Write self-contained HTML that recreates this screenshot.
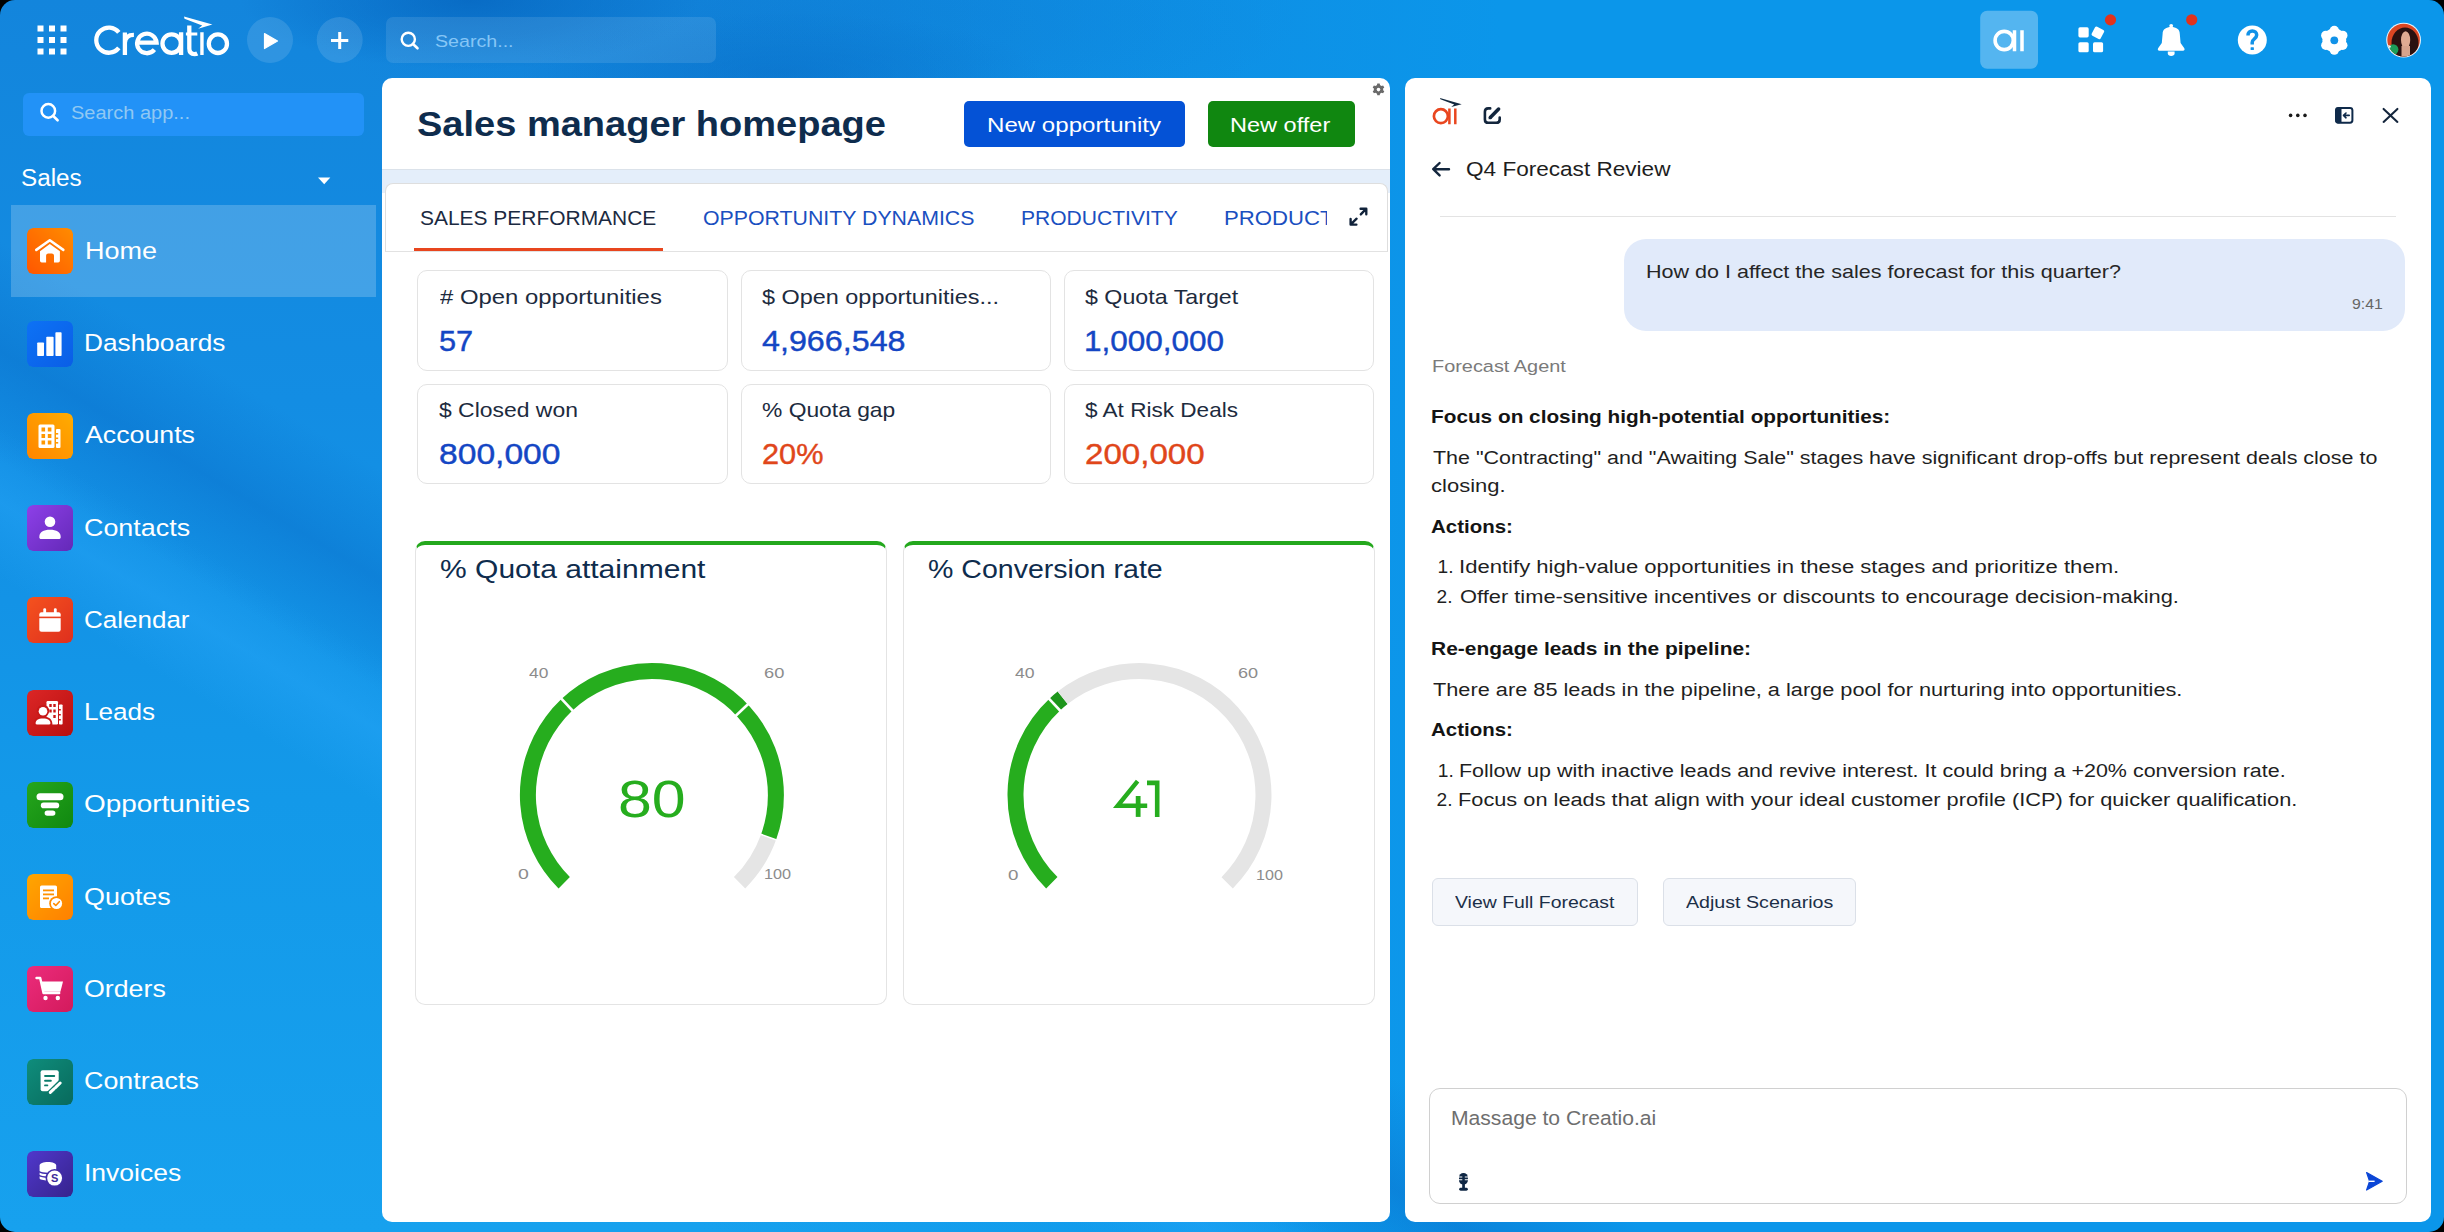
<!DOCTYPE html>
<html><head><meta charset="utf-8">
<style>
*{box-sizing:border-box;margin:0;padding:0}
html,body{width:2444px;height:1232px;overflow:hidden;background:#000;font-family:"Liberation Sans",sans-serif}
#app{position:absolute;left:0;top:0;width:2444px;height:1232px;border-radius:15px;overflow:hidden;
background:
 radial-gradient(ellipse 230px 70px at 470px 0px, rgba(5,100,190,0.75), rgba(5,100,190,0) 100%),
 radial-gradient(ellipse 260px 60px at 780px 72px, rgba(6,105,195,0.45), rgba(6,105,195,0) 100%),
 radial-gradient(ellipse 500px 120px at 800px 20px, rgba(8,112,200,0.28), rgba(8,112,200,0) 100%),
 linear-gradient(31deg, rgba(8,108,200,0) 660px, rgba(8,108,200,0.45) 755px, rgba(8,108,200,0) 850px),
 linear-gradient(31deg, rgba(40,168,250,0) 560px, rgba(40,168,250,0.4) 625px, rgba(40,168,250,0) 690px),
 linear-gradient(90deg, rgba(11,150,234,0) 700px, rgba(11,150,234,1) 1500px),
 linear-gradient(180deg,#1385dc 0px,#138de3 400px,#1399e9 800px,#17a1ee 1232px);}
.abs{position:absolute}
.t{position:absolute;white-space:nowrap;line-height:1}
.panel{position:absolute;background:#fff;border-radius:10px;overflow:hidden}
.ico{position:absolute;left:27px;width:46px;height:46px;border-radius:6px}
.kpi{position:absolute;width:310.5px;height:100.5px;border:1.5px solid #e3e3e3;border-radius:10px;background:#fff}
.gcard{position:absolute;height:464px;border:1.5px solid #e4e4e4;border-top:4px solid #24a81d;border-radius:10px;background:#fff}
.cbtn{position:absolute;top:799.5px;height:48.3px;background:#f5f7fb;border:1.5px solid #dbe0e8;border-radius:6px}
</style></head>
<body>
<div id="app">
  <!-- ================= TOP BAR ================= -->
  <svg class="abs" style="left:0;top:0" width="2444" height="78">
    <g fill="#fff">
      <rect x="37.5" y="25.5" width="6" height="6"/><rect x="49" y="25.5" width="6" height="6"/><rect x="60.5" y="25.5" width="6" height="6"/>
      <rect x="37.5" y="37" width="6" height="6"/><rect x="49" y="37" width="6" height="6"/><rect x="60.5" y="37" width="6" height="6"/>
      <rect x="37.5" y="48.5" width="6" height="6"/><rect x="49" y="48.5" width="6" height="6"/><rect x="60.5" y="48.5" width="6" height="6"/>
    </g>
    <!-- Creatio logo -->
    <g fill="none" stroke="#fff" stroke-width="4.3">
      <path d="M118.8 32.4 A12.6 12.6 0 1 0 118.8 47.9"/>
      <path d="M124.9 55 V32.6 M124.9 42.5 C125.3 37.2 128.6 34.8 133.9 34.8"/>
      <path d="M137.2 42.6 H156.6 A9.75 9.75 0 1 0 154.4 49.7"/>
      <circle cx="171.65" cy="43.6" r="9.2"/>
      <path d="M181.1 32.3 V55"/>
      <path d="M189.3 25.4 V48.5 C189.3 52.6 191.4 54.1 194.6 54.1 C195.6 54.1 196.5 53.9 197.3 53.5"/>
      <path d="M185.9 33.9 H197.3" stroke-width="3"/>
      <path d="M201.95 32.3 V55" stroke-width="3.4"/>
      <ellipse cx="217.9" cy="43.7" rx="9.1" ry="9.3"/>
    </g>
    <path fill="#fff" d="M184 16.5 L212.4 24.6 L198.2 28.7 L202.2 25.5 L184.5 18.7 Z"/>
    <!-- play / plus -->
    <circle cx="270" cy="40" r="23" fill="rgba(255,255,255,0.12)"/>
    <path d="M264.5 33.5 L277.5 41 L264.5 48.5 Z" fill="#fff" stroke="#fff" stroke-width="1.2" stroke-linejoin="round"/>
    <circle cx="339.7" cy="40" r="23" fill="rgba(255,255,255,0.12)"/>
    <path d="M331 40.5 H348.3 M339.7 32 V49" stroke="#fff" stroke-width="3" fill="none"/>
    <!-- search -->
    <rect x="386" y="17" width="330" height="46" rx="7" fill="rgba(255,255,255,0.1)"/>
    <circle cx="408.3" cy="39.3" r="6.6" fill="none" stroke="#fff" stroke-width="2.4"/>
    <path d="M413 44 L417.5 48.3" stroke="#fff" stroke-width="2.6" stroke-linecap="round"/>
    <!-- AI button -->
    <rect x="1980.2" y="10.7" width="57.8" height="58" rx="7" fill="rgba(255,255,255,0.3)"/>
    <circle cx="2004.2" cy="40.5" r="9.1" fill="none" stroke="#fff" stroke-width="3.6"/>
    <path d="M2014.5 30.3 V51.2 M2022 30.3 V51.2" stroke="#fff" stroke-width="3.5"/>
    <!-- apps -->
    <g fill="#fff">
      <rect x="2078.4" y="27.3" width="10.3" height="10.1" rx="1.6"/>
      <rect x="2078.4" y="42.2" width="10.3" height="10.1" rx="1.6"/>
      <rect x="2093" y="42.2" width="10.1" height="10.1" rx="1.6"/>
      <rect x="2092.8" y="27.7" width="10.2" height="10.2" rx="1.6" transform="rotate(28 2097.9 32.8)"/>
    </g>
    <circle cx="2110.5" cy="19.9" r="5.6" fill="#e2321b"/>
    <!-- bell -->
    <g fill="#fff">
      <circle cx="2171.2" cy="25.8" r="1.9"/>
      <path d="M2162.6 34 C2162.6 29.2 2166.3 27.1 2171.2 27.1 C2176.1 27.1 2179.8 29.2 2179.8 34 L2180.6 43 L2184.3 48.3 C2185 49.6 2184.4 50.8 2183 50.8 H2159.4 C2158 50.8 2157.4 49.6 2158.1 48.3 L2161.8 43 Z"/>
      <path d="M2167.8 51.6 H2174.6 V53.2 C2174.6 54.9 2173.2 55.9 2171.2 55.9 C2169.2 55.9 2167.8 54.9 2167.8 53.2 Z"/>
    </g>
    <circle cx="2191.7" cy="19.8" r="5.6" fill="#e2321b"/>
    <!-- help -->
    <circle cx="2252.3" cy="39.9" r="14.5" fill="#fff"/>
    <path d="M2248 35.4 C2248 32.4 2249.9 30.9 2252.3 30.9 C2254.8 30.9 2256.7 32.5 2256.7 35 C2256.7 37.3 2255.2 38.3 2253.9 39.3 C2252.8 40.1 2252.2 41 2252.2 42.6 V44.4" fill="none" stroke="#1192e8" stroke-width="3.5" stroke-linecap="butt"/>
    <rect x="2250.6" y="47.2" width="3.3" height="2.8" rx="0.6" fill="#1192e8"/>
    <!-- gear -->
    <g transform="translate(2334.3 40.3)" fill="#fff">
      <circle r="11.9"/><circle cx="0.00" cy="-9.80" r="4.7"/><circle cx="8.49" cy="-4.90" r="4.7"/><circle cx="8.49" cy="4.90" r="4.7"/><circle cx="0.00" cy="9.80" r="4.7"/><circle cx="-8.49" cy="-4.90" r="4.7"/><circle cx="-8.49" cy="4.90" r="4.7"/>
      <circle r="3.9" fill="#1192e8"/>
    </g>
    <!-- avatar -->
    <defs><clipPath id="avc"><circle cx="2403.6" cy="40.1" r="16.3"/></clipPath></defs>
    <circle cx="2403.6" cy="40.1" r="17.4" fill="#e6f3fc"/>
    <g clip-path="url(#avc)">
      <rect x="2386" y="22" width="36" height="36" fill="#db4622"/>
      <ellipse cx="2405" cy="43" rx="13.5" ry="15.5" fill="#2a1110"/>
      <ellipse cx="2405.6" cy="40" rx="4.6" ry="8.8" fill="#e0aa92"/>
      <rect x="2401.5" y="46" width="8.5" height="14" fill="#d8a38c"/>
      <circle cx="2393.2" cy="49.5" r="5.2" fill="#1c9c58"/>
      <path d="M2386 44 L2391 46 L2388.5 52 L2386 50Z" fill="#f2f2f2"/>
    </g>
  </svg>

  <!-- ================= SIDEBAR ================= -->
  <div class="abs" style="left:23px;top:92.5px;width:341px;height:43.5px;border-radius:6px;background:rgba(40,150,255,0.75)"></div>
  <svg class="abs" style="left:0;top:78px" width="382" height="1154">
    <circle cx="48.3" cy="32.9" r="6.8" fill="none" stroke="#fff" stroke-width="2.5"/>
    <path d="M53 37.8 L57.6 42.3" stroke="#fff" stroke-width="2.6" stroke-linecap="round"/>
    <path d="M318 99.6 H330.3 L324.2 106.2 Z" fill="#fff"/>
  </svg>
  <div class="abs" style="left:11px;top:205px;width:365px;height:92px;background:rgba(255,255,255,0.2)"></div>
  <svg class="ico" style="top:228.40px" viewBox="0 0 46 46"><defs><linearGradient id="g0" x1="1" y1="0" x2="0" y2="1"><stop offset="0" stop-color="#ff8c00"/><stop offset="1" stop-color="#ff5600"/></linearGradient></defs><rect width="46" height="46" rx="6" fill="url(#g0)"/><path fill="#fff" d="M22.8 15.9 L32.9 23.3 V32.7 Q32.9 34.5 31.1 34.5 H27 V27.8 Q27 25.6 24.8 25.6 H21.3 Q19.1 25.6 19.1 27.8 V34.5 H14.8 Q13 34.5 13 32.7 V23.3 Z"/><path d="M9.3 21.9 L22.8 12.3 L36.3 21.9" fill="none" stroke="#fff" stroke-width="2.6" stroke-linecap="round" stroke-linejoin="round"/></svg>
<svg class="ico" style="top:320.65px" viewBox="0 0 46 46"><defs><linearGradient id="g1" x1="0" y1="0" x2="1" y2="1"><stop offset="0" stop-color="#0d72f5"/><stop offset="1" stop-color="#0a5ee6"/></linearGradient></defs><rect width="46" height="46" rx="6" fill="url(#g1)"/><g fill="#fff"><rect x="10.2" y="21.4" width="6.8" height="13.6" rx="0.8"/><rect x="19.3" y="15.8" width="7.3" height="19.2" rx="0.8"/><rect x="28.4" y="11.2" width="6.2" height="23.8" rx="0.8"/></g></svg>
<svg class="ico" style="top:412.90px" viewBox="0 0 46 46"><defs><linearGradient id="g2" x1="0" y1="1" x2="1" y2="0"><stop offset="0" stop-color="#ff8500"/><stop offset="1" stop-color="#ffac00"/></linearGradient></defs><rect width="46" height="46" rx="6" fill="url(#g2)"/><g fill="#fff"><rect x="11.5" y="11.5" width="16" height="23.5" rx="1.5"/><rect x="29" y="16" width="4.5" height="19" rx="1"/></g><g fill="#ff9800"><rect x="14.5" y="14.5" width="3.6" height="4"/><rect x="20.8" y="14.5" width="3.6" height="4"/><rect x="14.5" y="21" width="3.6" height="4"/><rect x="20.8" y="21" width="3.6" height="4"/><rect x="14.5" y="27.5" width="3.6" height="4"/><rect x="20.8" y="27.5" width="3.6" height="4"/><rect x="29" y="20" width="2.2" height="1.6"/><rect x="29" y="24.5" width="2.2" height="1.6"/><rect x="29" y="29" width="2.2" height="1.6"/></g></svg>
<svg class="ico" style="top:505.15px" viewBox="0 0 46 46"><defs><linearGradient id="g3" x1="0" y1="0" x2="1" y2="1"><stop offset="0" stop-color="#8d40e8"/><stop offset="1" stop-color="#6429b8"/></linearGradient></defs><rect width="46" height="46" rx="6" fill="url(#g3)"/><g fill="#fff"><circle cx="23" cy="16.8" r="5.3"/><path d="M12.3 32.2 C12.3 26.8 16.5 24.8 23 24.8 C29.5 24.8 33.7 26.8 33.7 32.2 C33.7 33.4 33 34 31.8 34 H14.2 C13 34 12.3 33.4 12.3 32.2 Z"/></g></svg>
<svg class="ico" style="top:597.40px" viewBox="0 0 46 46"><defs><linearGradient id="g4" x1="0" y1="0" x2="1" y2="1"><stop offset="0" stop-color="#f5521e"/><stop offset="1" stop-color="#de2f1e"/></linearGradient></defs><rect width="46" height="46" rx="6" fill="url(#g4)"/><g fill="#fff"><rect x="12.3" y="15.3" width="21.4" height="19.5" rx="2.2"/><rect x="16.3" y="11.3" width="2.8" height="6" rx="1.2"/><rect x="26.9" y="11.3" width="2.8" height="6" rx="1.2"/></g><rect x="12" y="19.6" width="22" height="1.6" fill="#ea3f1e"/></svg>
<svg class="ico" style="top:689.65px" viewBox="0 0 46 46"><defs><linearGradient id="g5" x1="0" y1="0" x2="1" y2="1"><stop offset="0" stop-color="#dc2626"/><stop offset="1" stop-color="#b80f0f"/></linearGradient></defs><rect width="46" height="46" rx="6" fill="url(#g5)"/><g fill="#fff"><rect x="19.5" y="11" width="11.5" height="23.5" rx="1.2"/><rect x="32" y="14.5" width="3.6" height="20" rx="0.8"/></g><g fill="#c81818"><rect x="22.3" y="14" width="2.4" height="3"/><rect x="26.3" y="14" width="2.4" height="3"/><rect x="22.3" y="19.5" width="2.4" height="3"/><rect x="26.3" y="19.5" width="2.4" height="3"/><rect x="26.3" y="25" width="2.4" height="3"/><rect x="32" y="19" width="1.8" height="1.5"/><rect x="32" y="24" width="1.8" height="1.5"/><rect x="32" y="29" width="1.8" height="1.5"/><circle cx="16" cy="21" r="6.2"/><path d="M6.5 35.5 C6.5 29 10 26.5 16 26.5 C22 26.5 25.5 29 25.5 35.5 Z"/></g><g fill="#fff"><circle cx="16" cy="21.2" r="4.3"/><path d="M8.6 33.2 C8.6 30 11 28.4 16 28.4 C21 28.4 23.4 30 23.4 33.2 C23.4 34 23 34.4 22.2 34.4 H9.8 C9 34.4 8.6 34 8.6 33.2 Z"/></g></svg>
<svg class="ico" style="top:781.90px" viewBox="0 0 46 46"><defs><linearGradient id="g6" x1="0" y1="0" x2="1" y2="1"><stop offset="0" stop-color="#26a61c"/><stop offset="1" stop-color="#108810"/></linearGradient></defs><rect width="46" height="46" rx="6" fill="url(#g6)"/><g fill="#fff"><rect x="9.5" y="11.2" width="27" height="7" rx="3.5"/><rect x="13.8" y="20.6" width="18.4" height="5.6" rx="2.8"/><rect x="17.6" y="28.4" width="10.8" height="5.4" rx="2.7"/></g></svg>
<svg class="ico" style="top:874.15px" viewBox="0 0 46 46"><defs><linearGradient id="g7" x1="0" y1="0" x2="1" y2="1"><stop offset="0" stop-color="#ffa600"/><stop offset="1" stop-color="#ff8000"/></linearGradient></defs><rect width="46" height="46" rx="6" fill="url(#g7)"/><rect x="13" y="11.5" width="17" height="22.5" rx="1.6" fill="#fff"/><g fill="#ff9200"><rect x="16" y="15.5" width="11" height="1.8"/><rect x="16" y="19.5" width="11" height="1.8"/><rect x="16" y="23.5" width="6" height="1.8"/></g><circle cx="29.5" cy="29.5" r="7.3" fill="#ff8c00"/><circle cx="29.5" cy="29.5" r="5.6" fill="#fff"/><path d="M26.8 29.6 L28.8 31.5 L32.3 27.7" fill="none" stroke="#ff8c00" stroke-width="1.6" stroke-linecap="round" stroke-linejoin="round"/></svg>
<svg class="ico" style="top:966.40px" viewBox="0 0 46 46"><defs><linearGradient id="g8" x1="0" y1="0" x2="1" y2="1"><stop offset="0" stop-color="#ec2c7c"/><stop offset="1" stop-color="#d31a5c"/></linearGradient></defs><rect width="46" height="46" rx="6" fill="url(#g8)"/><path d="M9.5 12 H13.2 L16.5 27 H32.2" fill="none" stroke="#fff" stroke-width="2.4" stroke-linecap="round" stroke-linejoin="round"/><path fill="#fff" d="M14.5 15.5 H36 L33.4 25.8 H16.7 Z"/><circle cx="18.5" cy="32" r="2.2" fill="#fff"/><circle cx="30.8" cy="32" r="2.2" fill="#fff"/></svg>
<svg class="ico" style="top:1058.65px" viewBox="0 0 46 46"><defs><linearGradient id="g9" x1="0" y1="0" x2="1" y2="1"><stop offset="0" stop-color="#0f8d7c"/><stop offset="1" stop-color="#086a5c"/></linearGradient></defs><rect width="46" height="46" rx="6" fill="url(#g9)"/><path fill="#fff" d="M15.6 11.35 H29.7 Q31.7 11.35 31.7 13.35 V24 L23.6 32.25 H15.6 Q13.6 32.25 13.6 30.25 V13.35 Q13.6 11.35 15.6 11.35 Z"/><g fill="#0c7c6c"><rect x="17.1" y="16.05" width="11.1" height="1.9" rx="0.9"/><rect x="17.1" y="20.75" width="7.7" height="1.9" rx="0.9"/><rect x="17.1" y="25.4" width="4.2" height="1.9" rx="0.9"/></g><path d="M21.6 35.2 L34.6 22.6" stroke="#0b7a6a" stroke-width="5.6"/><path d="M23.3 33.4 L27.3 29.6 M28.7 28.3 L33.2 24" stroke="#fff" stroke-width="3" stroke-linecap="round"/></svg>
<svg class="ico" style="top:1150.90px" viewBox="0 0 46 46"><defs><linearGradient id="g10" x1="0" y1="0" x2="1" y2="1"><stop offset="0" stop-color="#5038cc"/><stop offset="1" stop-color="#36238c"/></linearGradient></defs><rect width="46" height="46" rx="6" fill="url(#g10)"/><path fill="#fff" d="M12.6 14.6 C12.6 12.3 16.3 11.1 20.9 11.1 C25.5 11.1 29.2 12.3 29.2 14.6 V27.2 C29.2 28.6 25.5 29.4 20.9 29.4 C16.3 29.4 12.6 28.6 12.6 27.2 Z"/><g stroke="#4330b0" stroke-width="1.5" fill="none"><path d="M12 20.6 C14 21.9 17 22.4 21 22.4"/><path d="M12 24.4 C14 25.7 17 26.1 21 26.1"/></g><circle cx="27.6" cy="27.1" r="9.1" fill="#412ca6"/><circle cx="27.6" cy="27.1" r="7.5" fill="#fff"/><text x="27.6" y="31" text-anchor="middle" font-family="Liberation Sans" font-weight="700" font-size="11" fill="#3d2a9a">S</text></svg>


  <!-- ================= MAIN PANEL ================= -->
  <div class="panel" style="left:382px;top:78px;width:1008px;height:1144px">
    <div class="abs" style="left:0;top:91px;width:1008px;height:24px;background:#e4eefa;border-top:1px solid #dbe2ea"></div>
    <div class="abs" style="left:3px;top:104.5px;width:1003px;height:69px;background:#fff;border:1.3px solid #dedede;border-bottom-color:#e2e2e2;border-radius:8px 8px 0 0"></div>
    <div class="abs" style="left:32px;top:170.4px;width:248.5px;height:3px;background:#e8461e"></div>
    <div class="abs" style="left:582px;top:23px;width:221.2px;height:46px;border-radius:5px;background:#0452d6"></div>
    <div class="abs" style="left:826.2px;top:23px;width:147.3px;height:46px;border-radius:5px;background:#108710"></div>
    <!-- small gear -->
    <svg class="abs" style="left:990px;top:5px" width="16" height="16">
      <g transform="translate(6.5 6.6)">
      <path fill="#6a6a6a" d="M-1.2 -6 h2.4 l0.4 1.6 a4.6 4.6 0 0 1 1.4 0.8 l1.6 -0.5 l1.2 2 l-1.2 1.1 a4.6 4.6 0 0 1 0 1.6 l1.2 1.1 l-1.2 2 l-1.6 -0.5 a4.6 4.6 0 0 1 -1.4 0.8 l-0.4 1.6 h-2.4 l-0.4 -1.6 a4.6 4.6 0 0 1 -1.4 -0.8 l-1.6 0.5 l-1.2 -2 l1.2 -1.1 a4.6 4.6 0 0 1 0 -1.6 l-1.2 -1.1 l1.2 -2 l1.6 0.5 a4.6 4.6 0 0 1 1.4 -0.8 z"/>
      <circle r="1.8" fill="#fff"/></g>
    </svg>
    <!-- expand icon -->
    <svg class="abs" style="left:966px;top:129px" width="22" height="20">
      <g fill="none" stroke="#10223a" stroke-width="2.35" stroke-linecap="round" stroke-linejoin="round">
        <path d="M12.6 1.7 H18.3 V7.2 M18.1 1.9 L12.8 7.4"/>
        <path d="M2.6 12 V17.6 H8.4 M2.8 17.4 L8.6 11.7"/>
      </g>
    </svg>
    <!-- KPI cards -->
    <div class="kpi" style="left:35px;top:192.3px"></div>
    <div class="kpi" style="left:358.5px;top:192.3px"></div>
    <div class="kpi" style="left:681.5px;top:192.3px"></div>
    <div class="kpi" style="left:35px;top:305.5px"></div>
    <div class="kpi" style="left:358.5px;top:305.5px"></div>
    <div class="kpi" style="left:681.5px;top:305.5px"></div>
    <!-- gauge cards -->
    <div class="gcard" style="left:33.4px;top:463px;width:471.6px"></div>
    <div class="gcard" style="left:521.4px;top:463px;width:471.4px"></div>
  </div>
  <svg class="abs" style="left:0;top:0" width="1400" height="1232">
<path d="M564.22 882.78 A124 124 0 1 1 768.57 837.10" fill="none" stroke="#26ad1e" stroke-width="16"/>
<path d="M768.57 837.10 A124 124 0 0 1 739.58 882.78" fill="none" stroke="#e5e5e5" stroke-width="16"/>
<path d="M573.86 712.00 L560.17 697.42" stroke="#fff" stroke-width="2.6"/>
<path d="M734.73 716.77 L749.26 703.03" stroke="#fff" stroke-width="2.6"/>
<path d="M759.16 833.72 L777.98 840.49" stroke="#fff" stroke-width="1.6"/>
<path d="M1051.82 882.78 A124 124 0 0 1 1054.62 704.71" fill="none" stroke="#26ad1e" stroke-width="16"/>
<path d="M1054.62 704.71 A124 124 0 0 1 1062.65 697.79" fill="none" stroke="#1d951b" stroke-width="16"/>
<path d="M1062.65 697.79 A124 124 0 0 1 1227.18 882.78" fill="none" stroke="#e5e5e5" stroke-width="16"/>
<path d="M1061.46 712.00 L1047.77 697.42" stroke="#fff" stroke-width="2.6"/>
<g fill="none" stroke="#26ad1e" stroke-linejoin="miter"><path d="M1137.6 781.2 L1117.6 805.8 H1147.2" stroke-width="4.4"/><path d="M1138.15 796 V816.9" stroke-width="4.8"/><path d="M1147 782.9 H1157.2 V816.9" stroke-width="4.6"/></g>
</svg>


  <!-- ================= RIGHT PANEL ================= -->
  <div class="panel" style="left:1405px;top:78px;width:1026px;height:1144px">
    <div class="abs" style="left:35px;top:137.8px;width:956px;height:1.5px;background:#e3e3e3"></div>
    <div class="abs" style="left:218.5px;top:160.8px;width:781px;height:92.6px;border-radius:22px;background:#e1eafa"></div>
    <div class="cbtn" style="left:27px;width:206.4px"></div>
    <div class="cbtn" style="left:257.7px;width:193.3px"></div>
    <div class="abs" style="left:23.8px;top:1010.4px;width:978.7px;height:115.6px;border:1.6px solid #d0d0d0;border-radius:11px"></div>
  </div>
  <svg class="abs" style="left:1405px;top:78px" width="1026" height="1144">
  <g transform="translate(-1405 -78)">
    <!-- ai logo -->
    <circle cx="1440.9" cy="116.2" r="7" fill="none" stroke="#e9461f" stroke-width="2.7"/>
    <path d="M1449.4 108.6 V124.3 M1455.3 108.6 V124.3" stroke="#e9461f" stroke-width="2.5"/>
    <path d="M1440 98 L1461.7 104.3 L1451.2 106.9 L1454.2 104.5 L1440.4 99.2 Z" fill="#13293f"/>
    <!-- edit icon -->
    <path d="M1490.2 108.4 H1488.2 C1485.8 108.4 1484.9 109.6 1484.9 111.8 V119.4 C1484.9 121.8 1485.8 122.8 1488.2 122.8 H1496.3 C1498.7 122.8 1499.7 121.8 1499.7 119.4 V117.6" fill="none" stroke="#13263d" stroke-width="2.6" stroke-linecap="round"/>
    <path d="M1490.3 117.4 L1498.6 109.1" stroke="#13263d" stroke-width="3.6" stroke-linecap="round"/>
    <path d="M1488.6 119.2 L1489.4 115.8 L1492 118.4 Z" fill="#13263d"/>
    <!-- back arrow -->
    <path d="M1449 169.2 H1433.5 M1439.6 163 L1433.2 169.2 L1439.6 175.4" fill="none" stroke="#13263d" stroke-width="2.4" stroke-linecap="round" stroke-linejoin="round"/>
    <!-- dots -->
    <g fill="#1a1a1a"><circle cx="2290.6" cy="115.4" r="1.8"/><circle cx="2297.8" cy="115.4" r="1.8"/><circle cx="2305" cy="115.4" r="1.8"/></g>
    <!-- panel icon -->
    <rect x="2336" y="107.9" width="16.4" height="14.8" rx="2.4" fill="none" stroke="#0f2a4a" stroke-width="2"/>
    <rect x="2335.5" y="107.4" width="6" height="15.8" rx="2" fill="#0f2a4a"/>
    <path d="M2349.2 115.4 H2343.6 M2346 113 L2343.5 115.4 L2346 117.8" fill="none" stroke="#0f2a4a" stroke-width="1.6" stroke-linecap="round" stroke-linejoin="round"/>
    <!-- close -->
    <path d="M2383.6 108.9 L2397.4 121.9 M2397.4 108.9 L2383.6 121.9" stroke="#15263d" stroke-width="2.1" stroke-linecap="round"/>
    <!-- mic -->
    <rect x="1459" y="1173" width="8.9" height="11.6" rx="4.4" fill="#0f2744"/>
    <path d="M1459 1177 H1462.3 M1464.8 1177 H1468 M1459 1179.7 H1462.3 M1464.8 1179.7 H1468" stroke="#fff" stroke-width="1.1"/>
    <rect x="1462.2" y="1184" width="2.7" height="4.5" fill="#0f2744"/>
    <rect x="1459.2" y="1187.8" width="8.6" height="2.9" rx="1.4" fill="#0f2744"/>
    <!-- send -->
    <path d="M2366.6 1172.6 L2382.2 1181.3 L2366.6 1190 L2369.6 1181.3 Z" fill="#0b46d6" stroke="#0b46d6" stroke-width="1.2" stroke-linejoin="round"/>
    <path d="M2369 1181.3 H2374.6" stroke="#fff" stroke-width="1.4"/>
  </g>
</svg>


  <div class="t" style="left:434.97px;top:33.00px;font-size:17.4px;color:#86c6f6;transform:scaleX(1.1284);transform-origin:0 0;">Search...</div>
<div class="t" style="left:71.16px;top:103.00px;font-size:19.2px;color:#90c8f3;transform:scaleX(1.0423);transform-origin:0 0;">Search app...</div>
<div class="t" style="left:21.27px;top:167.00px;font-size:23.5px;color:#fff;transform:scaleX(1.0333);transform-origin:0 0;">Sales</div>
<div class="t" style="left:84.64px;top:239.00px;font-size:23.9px;color:#fff;transform:scaleX(1.1311);transform-origin:0 0;">Home</div>
<div class="t" style="left:84.40px;top:331.00px;font-size:23.9px;color:#fff;transform:scaleX(1.0976);transform-origin:0 0;">Dashboards</div>
<div class="t" style="left:85.20px;top:423.00px;font-size:23.9px;color:#fff;transform:scaleX(1.1186);transform-origin:0 0;">Accounts</div>
<div class="t" style="left:84.08px;top:516.00px;font-size:23.9px;color:#fff;transform:scaleX(1.1250);transform-origin:0 0;">Contacts</div>
<div class="t" style="left:84.11px;top:608.00px;font-size:23.9px;color:#fff;transform:scaleX(1.0885);transform-origin:0 0;">Calendar</div>
<div class="t" style="left:84.01px;top:700.00px;font-size:23.9px;color:#fff;transform:scaleX(1.0935);transform-origin:0 0;">Leads</div>
<div class="t" style="left:84.33px;top:792.00px;font-size:23.9px;color:#fff;transform:scaleX(1.1679);transform-origin:0 0;">Opportunities</div>
<div class="t" style="left:84.17px;top:885.00px;font-size:23.9px;color:#fff;transform:scaleX(1.1267);transform-origin:0 0;">Quotes</div>
<div class="t" style="left:84.18px;top:977.00px;font-size:23.9px;color:#fff;transform:scaleX(1.1197);transform-origin:0 0;">Orders</div>
<div class="t" style="left:84.08px;top:1069.00px;font-size:23.9px;color:#fff;transform:scaleX(1.1230);transform-origin:0 0;">Contracts</div>
<div class="t" style="left:84.18px;top:1161.00px;font-size:23.9px;color:#fff;transform:scaleX(1.1094);transform-origin:0 0;">Invoices</div>
<div class="t" style="left:417.02px;top:106.00px;font-size:35.2px;color:#0e2c4d;font-weight:700;transform:scaleX(1.0801);transform-origin:0 0;">Sales manager homepage</div>
<div class="t" style="left:986.51px;top:114.00px;font-size:21.0px;color:#fff;transform:scaleX(1.1467);transform-origin:0 0;">New opportunity</div>
<div class="t" style="left:1230.26px;top:114.00px;font-size:21.0px;color:#fff;transform:scaleX(1.1207);transform-origin:0 0;">New offer</div>
<div class="t" style="left:419.64px;top:208.00px;font-size:20.7px;color:#1b2a41;transform:scaleX(1.0125);transform-origin:0 0;">SALES PERFORMANCE</div>
<div class="t" style="left:702.57px;top:208.00px;font-size:20.7px;color:#1a4fc0;transform:scaleX(1.0298);transform-origin:0 0;">OPPORTUNITY DYNAMICS</div>
<div class="t" style="left:1020.87px;top:208.00px;font-size:20.7px;color:#1a4fc0;transform:scaleX(1.0172);transform-origin:0 0;">PRODUCTIVITY</div>
<div class="t" style="left:440.20px;top:287.00px;font-size:20.6px;color:#1d2b3e;transform:scaleX(1.1602);transform-origin:0 0;"># Open opportunities</div>
<div class="t" style="left:439.09px;top:400.00px;font-size:20.6px;color:#1d2b3e;transform:scaleX(1.1131);transform-origin:0 0;">$ Closed won</div>
<div class="t" style="left:439.14px;top:327.00px;font-size:29.0px;color:#1446c4;transform:scaleX(1.0600);transform-origin:0 0;-webkit-text-stroke:0.4px #1446c4;">57</div>
<div class="t" style="left:439.04px;top:440.00px;font-size:29.0px;color:#1446c4;transform:scaleX(1.1592);transform-origin:0 0;-webkit-text-stroke:0.4px #1446c4;">800,000</div>
<div class="t" style="left:762.26px;top:287.00px;font-size:20.6px;color:#1d2b3e;transform:scaleX(1.1374);transform-origin:0 0;">$ Open opportunities...</div>
<div class="t" style="left:762.29px;top:400.00px;font-size:20.6px;color:#1d2b3e;transform:scaleX(1.1085);transform-origin:0 0;">% Quota gap</div>
<div class="t" style="left:762.29px;top:327.00px;font-size:29.0px;color:#1446c4;transform:scaleX(1.1126);transform-origin:0 0;-webkit-text-stroke:0.4px #1446c4;">4,966,548</div>
<div class="t" style="left:762.34px;top:440.00px;font-size:29.0px;color:#e0461a;transform:scaleX(1.0589);transform-origin:0 0;-webkit-text-stroke:0.4px #e0461a;">20%</div>
<div class="t" style="left:1085.27px;top:287.00px;font-size:20.6px;color:#1d2b3e;transform:scaleX(1.1274);transform-origin:0 0;">$ Quota Target</div>
<div class="t" style="left:1085.30px;top:400.00px;font-size:20.6px;color:#1d2b3e;transform:scaleX(1.0957);transform-origin:0 0;">$ At Risk Deals</div>
<div class="t" style="left:1084.23px;top:327.00px;font-size:29.0px;color:#1446c4;transform:scaleX(1.0857);transform-origin:0 0;-webkit-text-stroke:0.4px #1446c4;">1,000,000</div>
<div class="t" style="left:1085.26px;top:440.00px;font-size:29.0px;color:#e0461a;transform:scaleX(1.1417);transform-origin:0 0;-webkit-text-stroke:0.4px #e0461a;">200,000</div>
<div class="t" style="left:439.74px;top:557.00px;font-size:25.8px;color:#0e2c4d;transform:scaleX(1.1643);transform-origin:0 0;">% Quota attainment</div>
<div class="t" style="left:927.59px;top:557.00px;font-size:25.8px;color:#0e2c4d;transform:scaleX(1.1062);transform-origin:0 0;">% Conversion rate</div>
<div class="t" style="left:1466.27px;top:160.00px;font-size:19.9px;color:#1e1e1e;transform:scaleX(1.1346);transform-origin:0 0;">Q4 Forecast Review</div>
<div class="t" style="left:1645.73px;top:262.00px;font-size:19.0px;color:#262626;transform:scaleX(1.1339);transform-origin:0 0;">How do I affect the sales forecast for this quarter?</div>
<div class="t" style="left:2351.96px;top:296.00px;font-size:15.2px;color:#666;transform:scaleX(1.0429);transform-origin:0 0;">9:41</div>
<div class="t" style="left:1431.92px;top:358.00px;font-size:17.4px;color:#7a7a7a;transform:scaleX(1.1440);transform-origin:0 0;">Forecast Agent</div>
<div class="t" style="left:1431.41px;top:407.00px;font-size:19.0px;color:#141414;font-weight:700;transform:scaleX(1.0933);transform-origin:0 0;">Focus on closing high-potential opportunities:</div>
<div class="t" style="left:1432.50px;top:448.00px;font-size:19.2px;color:#1f1f1f;transform:scaleX(1.1195);transform-origin:0 0;">The "Contracting" and "Awaiting Sale" stages have significant drop-offs but represent deals close to</div>
<div class="t" style="left:1431.35px;top:476.00px;font-size:19.2px;color:#1f1f1f;transform:scaleX(1.1468);transform-origin:0 0;">closing.</div>
<div class="t" style="left:1431.42px;top:517.00px;font-size:19.0px;color:#141414;font-weight:700;transform:scaleX(1.0767);transform-origin:0 0;">Actions:</div>
<div class="t" style="left:1437.60px;top:557.00px;font-size:19.2px;color:#1f1f1f;">1.</div>
<div class="t" style="left:1458.90px;top:557.00px;font-size:19.2px;color:#1f1f1f;transform:scaleX(1.1505);transform-origin:0 0;">Identify high-value opportunities in these stages and prioritize them.</div>
<div class="t" style="left:1436.50px;top:587.00px;font-size:19.2px;color:#1f1f1f;">2.</div>
<div class="t" style="left:1459.56px;top:587.00px;font-size:19.2px;color:#1f1f1f;transform:scaleX(1.1393);transform-origin:0 0;">Offer time-sensitive incentives or discounts to encourage decision-making.</div>
<div class="t" style="left:1431.40px;top:639.00px;font-size:19.0px;color:#141414;font-weight:700;transform:scaleX(1.1024);transform-origin:0 0;">Re-engage leads in the pipeline:</div>
<div class="t" style="left:1432.50px;top:680.00px;font-size:19.2px;color:#1f1f1f;transform:scaleX(1.1332);transform-origin:0 0;">There are 85 leads in the pipeline, a large pool for nurturing into opportunities.</div>
<div class="t" style="left:1431.42px;top:720.00px;font-size:19.0px;color:#141414;font-weight:700;transform:scaleX(1.0767);transform-origin:0 0;">Actions:</div>
<div class="t" style="left:1437.80px;top:761.00px;font-size:19.2px;color:#1f1f1f;">1.</div>
<div class="t" style="left:1459.06px;top:761.00px;font-size:19.2px;color:#1f1f1f;transform:scaleX(1.1193);transform-origin:0 0;">Follow up with inactive leads and revive interest. It could bring a +20% conversion rate.</div>
<div class="t" style="left:1436.50px;top:790.00px;font-size:19.2px;color:#1f1f1f;">2.</div>
<div class="t" style="left:1458.43px;top:790.00px;font-size:19.2px;color:#1f1f1f;transform:scaleX(1.1340);transform-origin:0 0;">Focus on leads that align with your ideal customer profile (ICP) for quicker qualification.</div>
<div class="t" style="left:1454.90px;top:894.00px;font-size:17.4px;color:#1c2f48;transform:scaleX(1.1168);transform-origin:0 0;">View Full Forecast</div>
<div class="t" style="left:1685.80px;top:894.00px;font-size:17.4px;color:#1c2f48;transform:scaleX(1.1285);transform-origin:0 0;">Adjust Scenarios</div>
<div class="t" style="left:1450.86px;top:1109.00px;font-size:19.7px;color:#6e6e6e;transform:scaleX(1.0718);transform-origin:0 0;">Massage to Creatio.ai</div>
<div class="t" style="left:529.00px;top:667.00px;font-size:13.9px;color:#8c8c8c;transform:scaleX(1.2467);transform-origin:0 0;">40</div>
<div class="t" style="left:764.09px;top:667.00px;font-size:13.9px;color:#8c8c8c;transform:scaleX(1.3143);transform-origin:0 0;">60</div>
<div class="t" style="left:517.60px;top:868.00px;font-size:13.9px;color:#8c8c8c;transform:scaleX(1.4000);transform-origin:0 0;">0</div>
<div class="t" style="left:763.93px;top:868.00px;font-size:13.9px;color:#8c8c8c;transform:scaleX(1.1682);transform-origin:0 0;">100</div>
<div class="t" style="left:1015.00px;top:667.00px;font-size:13.9px;color:#8c8c8c;transform:scaleX(1.2667);transform-origin:0 0;">40</div>
<div class="t" style="left:1237.70px;top:667.00px;font-size:13.9px;color:#8c8c8c;transform:scaleX(1.3000);transform-origin:0 0;">60</div>
<div class="t" style="left:1008.35px;top:869.00px;font-size:13.9px;color:#8c8c8c;transform:scaleX(1.3500);transform-origin:0 0;">0</div>
<div class="t" style="left:1256.04px;top:869.00px;font-size:13.9px;color:#8c8c8c;transform:scaleX(1.1591);transform-origin:0 0;">100</div>
<div class="t" style="left:617.66px;top:773.00px;font-size:52.0px;color:#26ad1e;transform:scaleX(1.1704);transform-origin:0 0;">80</div>
<div style="position:absolute;left:1200px;top:190px;width:126.6px;height:50px;overflow:hidden"><div class="t" style="left:24.40px;top:18.00px;font-size:20.7px;color:#1a4fc0;transform:scaleX(1.07);transform-origin:0 0;">PRODUCTS</div></div>
</div>
</body></html>
